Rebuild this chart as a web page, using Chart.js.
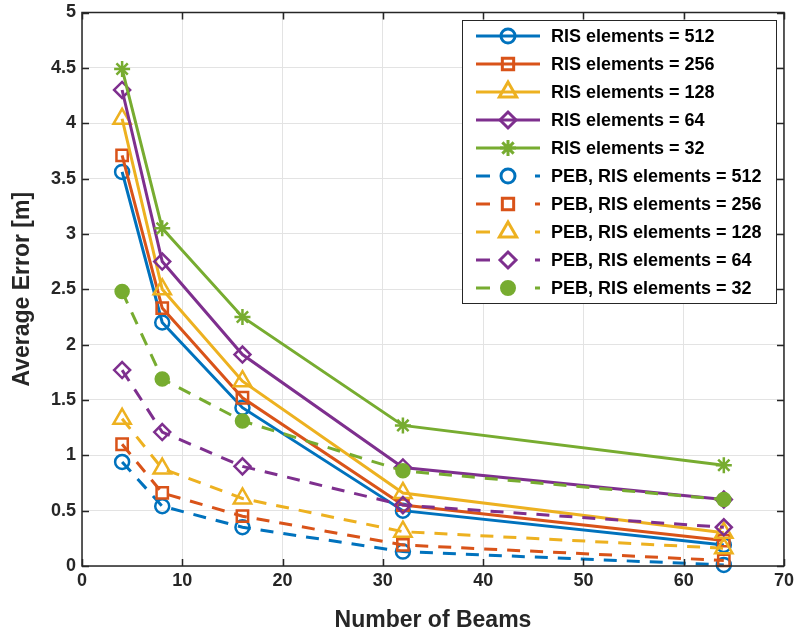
<!DOCTYPE html>
<html>
<head>
<meta charset="utf-8">
<script src="https://cdn.jsdelivr.net/npm/chart.js@4"></script>
<style>
  html, body { margin: 0; padding: 0; background: #fff; }
  #wrap { width: 798px; height: 636px; }
</style>
</head>
<body>
<div id="wrap"><canvas id="myChart" width="798" height="636"></canvas></div>
<script>
// Datos
const beams = [4, 8, 16, 32, 64];
const ris512 = [3.56, 2.20, 1.43, 0.50, 0.19];
const ris256 = [3.71, 2.33, 1.52, 0.55, 0.23];
const ris128 = [4.04, 2.50, 1.67, 0.66, 0.30];
const ris64  = [4.30, 2.75, 1.91, 0.89, 0.60];
const ris32  = [4.49, 3.05, 2.25, 1.27, 0.91];
const peb512 = [0.94, 0.54, 0.35, 0.13, 0.01];
const peb256 = [1.10, 0.66, 0.45, 0.19, 0.05];
const peb128 = [1.33, 0.88, 0.61, 0.31, 0.16];
const peb64  = [1.77, 1.21, 0.90, 0.55, 0.35];
const peb32  = [2.48, 1.69, 1.31, 0.86, 0.60];
const labels = [
  'RIS elements = 512', 'RIS elements = 256', 'RIS elements = 128',
  'RIS elements = 64', 'RIS elements = 32',
  'PEB, RIS elements = 512', 'PEB, RIS elements = 256', 'PEB, RIS elements = 128',
  'PEB, RIS elements = 64', 'PEB, RIS elements = 32'
];

const colors = ['#0072BD', '#D95319', '#EDB120', '#7E2F8E', '#77AC30'];
const markers = ['circle', 'rect', 'triangle', 'rectRot', 'star'];
const markersPeb = ['circle', 'rect', 'triangle', 'rectRot', 'circle'];
const radii = [7, 8, 10, 8, 8];
const series = [ris512, ris256, ris128, ris64, ris32, peb512, peb256, peb128, peb64, peb32];

const axisColor = '#262626';
const tickFont = { family: 'Liberation Sans', size: 18, weight: 'bold' };

function makeDataset(i) {
  const k = i % 5;
  const dashed = i >= 5;
  const filled = dashed && k === 4;
  return {
    label: labels[i],
    data: beams.map((b, j) => ({ x: b, y: series[i][j] })),
    borderColor: colors[k],
    backgroundColor: filled ? colors[k] : 'rgba(0,0,0,0)',
    borderWidth: 3,
    borderDash: dashed ? [13, 10] : [],
    pointStyle: dashed ? markersPeb[k] : markers[k],
    pointRadius: filled ? 6.5 : radii[k],
    pointBorderWidth: 2.5,
    pointBorderColor: colors[k],
    pointBackgroundColor: filled ? colors[k] : 'rgba(0,0,0,0)',
    tension: 0,
    clip: false,
    order: -i
  };
}

// Caja del grafico con marcas hacia dentro (estilo MATLAB)
const boxPlugin = {
  id: 'boxPlugin',
  afterDraw: (chart) => {
    const ctx = chart.ctx;
    const a = chart.chartArea;
    const xs = chart.scales.x, ys = chart.scales.y;
    ctx.save();
    ctx.strokeStyle = axisColor;
    ctx.lineWidth = 1.5;
    ctx.strokeRect(a.left, a.top, a.right - a.left, a.bottom - a.top);
    const len = 7;
    ctx.beginPath();
    xs.ticks.forEach(t => {
      const px = Math.round(xs.getPixelForValue(t.value)) + 0.5;
      ctx.moveTo(px, a.bottom); ctx.lineTo(px, a.bottom - len);
      ctx.moveTo(px, a.top); ctx.lineTo(px, a.top + len);
    });
    ys.ticks.forEach(t => {
      const py = Math.round(ys.getPixelForValue(t.value)) + 0.5;
      ctx.moveTo(a.left, py); ctx.lineTo(a.left + len, py);
      ctx.moveTo(a.right, py); ctx.lineTo(a.right - len, py);
    });
    ctx.stroke();
    ctx.restore();
  }
};

function drawMarker(ctx, ds, x, y) {
  Chart.helpers.drawPoint(ctx, {
    pointStyle: ds.pointStyle,
    radius: ds.pointRadius,
    borderWidth: ds.pointBorderWidth
  }, x, y);
}

// Leyenda dibujada a mano: linea + marcador como en MATLAB
const legendPlugin = {
  id: 'legendPlugin',
  afterDraw: (chart) => {
    const ctx = chart.ctx;
    const bx = 462, by = 20, bw = 314, bh = 283;
    ctx.save();
    ctx.fillStyle = '#ffffff';
    ctx.fillRect(bx, by, bw, bh);
    ctx.strokeStyle = axisColor;
    ctx.lineWidth = 1;
    ctx.strokeRect(bx + 0.5, by + 0.5, bw, bh);
    chart.data.datasets.forEach((ds, i) => {
      const y = 36 + i * 28;
      ctx.strokeStyle = ds.borderColor;
      ctx.fillStyle = ds.pointBackgroundColor;
      ctx.lineWidth = 3;
      ctx.beginPath();
      if (i < 5) {
        ctx.moveTo(476, y); ctx.lineTo(540, y);
      } else {
        ctx.moveTo(476, y); ctx.lineTo(490, y);
        ctx.moveTo(535, y); ctx.lineTo(540, y);
      }
      ctx.stroke();
      ctx.setLineDash([]);
      drawMarker(ctx, ds, 508, y);
      ctx.fillStyle = '#000000';
      ctx.font = 'bold 18px "Liberation Sans"';
      ctx.textBaseline = 'middle';
      ctx.fillText(ds.label, 551, y + 1);
    });
    ctx.restore();
  }
};

const ctx = document.getElementById('myChart').getContext('2d');
new Chart(ctx, {
  type: 'line',
  data: { datasets: series.map((s, i) => makeDataset(i)) },
  options: {
    responsive: false,
    animation: false,
    layout: { padding: { top: 10, right: 13, left: 0, bottom: 0 } },
    plugins: {
      legend: { display: false },
      tooltip: { enabled: false }
    },
    scales: {
      x: {
        type: 'linear',
        min: 0, max: 70,
        ticks: { stepSize: 10, color: axisColor, font: tickFont, padding: 4 },
        grid: { color: '#e3e3e3', lineWidth: 1, drawTicks: false },
        border: { display: false },
        title: {
          display: true, text: 'Number of Beams', color: axisColor,
          font: { family: 'Liberation Sans', size: 23, weight: 'bold' },
          padding: { top: 11, bottom: 2 }
        },
        afterFit: (scale) => { scale.height = 70; }
      },
      y: {
        min: 0, max: 5,
        ticks: {
          stepSize: 0.5, color: axisColor, font: tickFont, padding: 6,
          callback: (v) => String(Math.round(v * 10) / 10)
        },
        grid: { color: '#e3e3e3', lineWidth: 1, drawTicks: false },
        border: { display: false },
        title: {
          display: true, text: 'Average Error [m]', color: axisColor,
          font: { family: 'Liberation Sans', size: 23, weight: 'bold' },
          padding: { top: 9, bottom: 4 }
        },
        afterFit: (scale) => {
          scale.width = 82;
          scale.paddingTop = 0;
          scale.paddingBottom = 0;
        }
      }
    }
  },
  plugins: [boxPlugin, legendPlugin]
});
</script>
</body>
</html>
